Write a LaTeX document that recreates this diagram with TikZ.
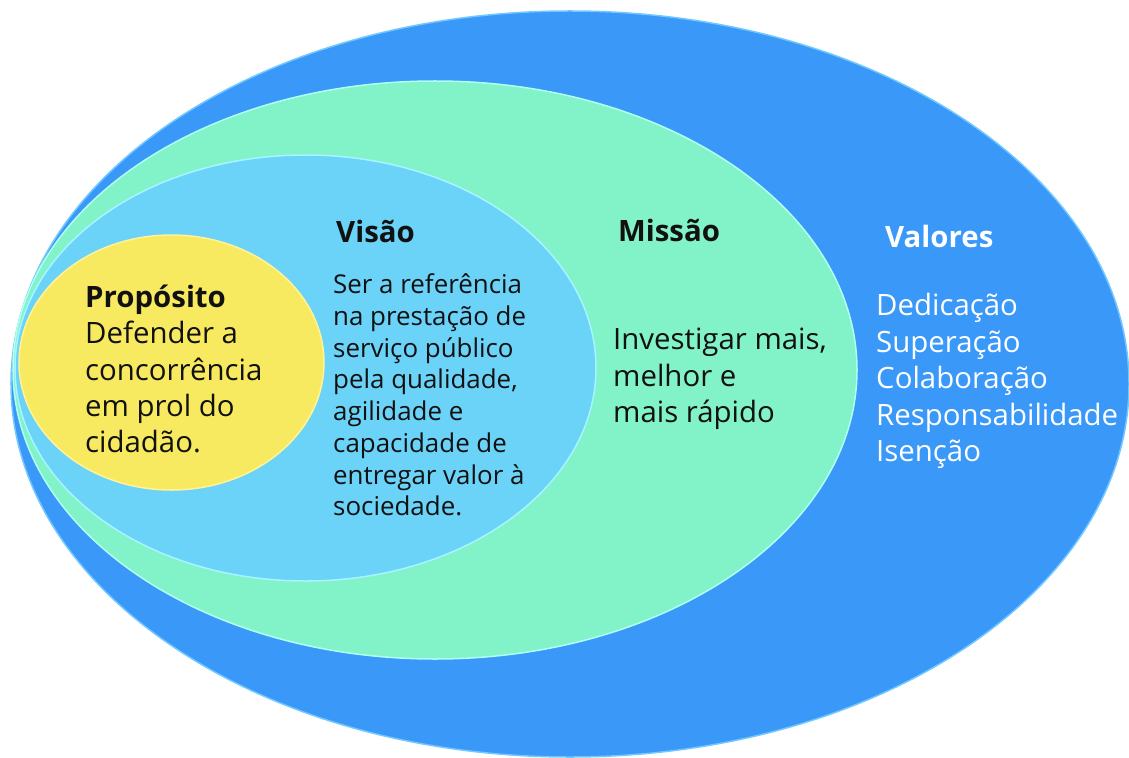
\documentclass[tikz,border=0pt]{standalone}
\usepackage{fontspec}
\setmainfont{Open Sans}
\usetikzlibrary{shapes.geometric}
\definecolor{cValores}{HTML}{3A98F8}
\definecolor{cValoresRim}{HTML}{70C8FF}
\definecolor{cMissao}{HTML}{82F2C8}
\definecolor{cMissaoRim}{HTML}{B0FFF0}
\definecolor{cVisao}{HTML}{6BD2F8}
\definecolor{cVisaoRim}{HTML}{A8F4FF}
\definecolor{cProp}{HTML}{F8EA60}
\definecolor{cPropRim}{HTML}{FFF39A}
\definecolor{cText}{HTML}{111111}
\tikzset{
  ring/.style={ellipse, inner sep=0pt, outer sep=0pt, line width=1.5bp},
  head/.style={font=\bfseries\fontsize{29.5}{36}\selectfont, inner sep=0pt, anchor=west},
  body/.style={font=\fontsize{29.5}{36.5}\selectfont, inner sep=0pt, anchor=west, align=left},
  bodysmall/.style={font=\fontsize{26}{31.9}\selectfont, inner sep=0pt, anchor=west, align=left}
}
\begin{document}
\begin{tikzpicture}[x=1bp,y=-1bp]
\useasboundingbox (0,0) rectangle (1129,758);
\node[ring, fill=cValores, draw=cValoresRim, minimum width=1118bp, minimum height=746bp] (valores) at (570,384) {};
\node[ring, fill=cMissao, draw=cMissaoRim, minimum width=844bp, minimum height=578bp] (missao) at (435,370) {};
\node[ring, fill=cVisao, draw=cVisaoRim, minimum width=581bp, minimum height=426bp] (visao) at (305.5,368) {};
\node[ring, fill=cProp, draw=cPropRim, minimum width=305bp, minimum height=255bp] (proposito) at (171.5,362.5) {};
% Propósito
\node[body, text=cText] (tprop) at (85,369) {\textbf{Propósito}\\Defender a\\concorrência\\em prol do\\cidadão.};
% Visão
\node[head, text=cText] (hvisao) at (336,231) {Visão};
\node[bodysmall, text=cText] (tvisao) at (333,395) {Ser a referência\\na prestação de\\serviço público\\pela qualidade,\\agilidade e\\capacidade de\\entregar valor à\\sociedade.};
% Missão
\node[head, text=cText] (hmissao) at (618,230) {Missão};
\node[body, text=cText] (tmissao) at (613,379) {Investigar mais,\\melhor e\\mais rápido};
% Valores
\node[head, text=white] (hvalores) at (885,236) {Valores};
\node[body, text=white] (tvalores) at (876,381) {Dedicação\\Superação\\Colaboração\\Responsabilidade\\Isenção};
\end{tikzpicture}
\end{document}
